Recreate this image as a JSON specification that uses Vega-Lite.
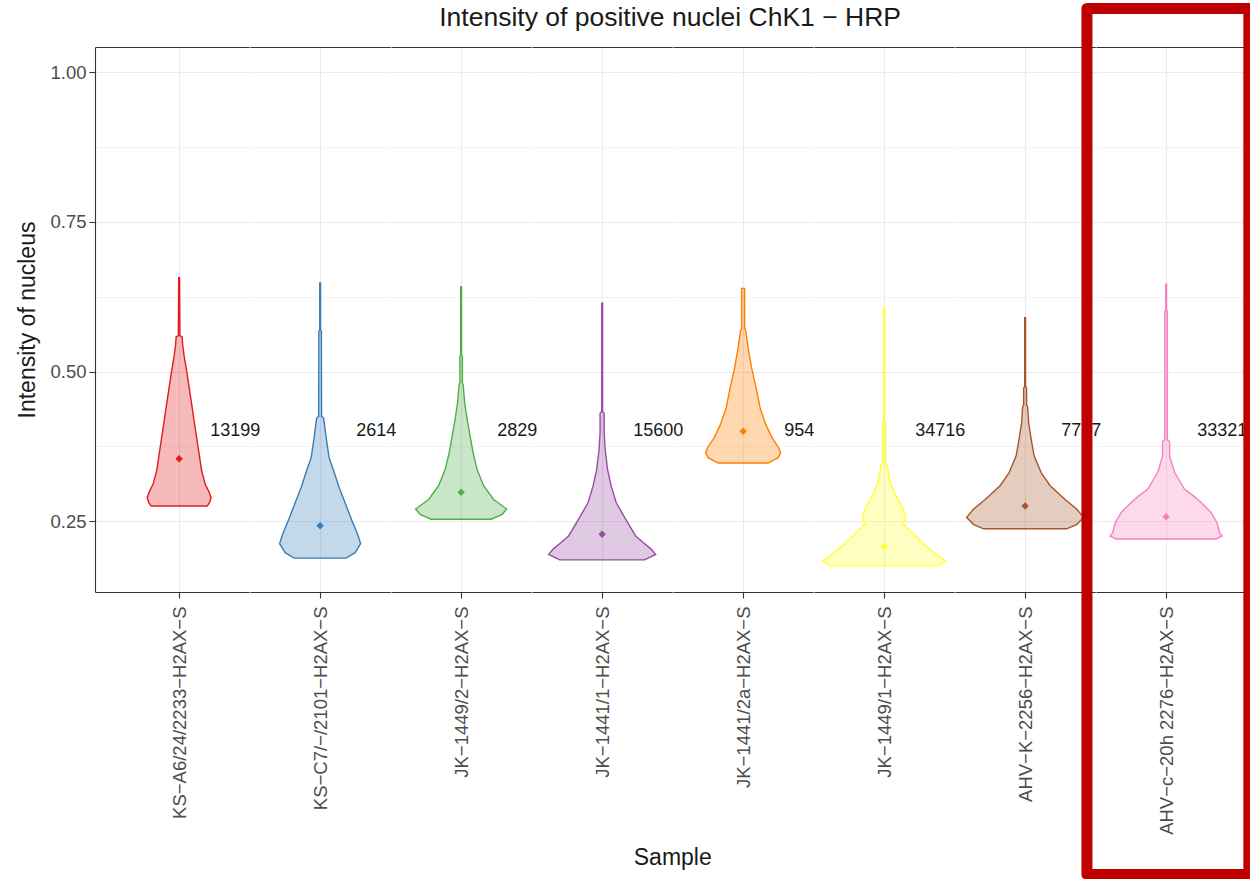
{
  "$schema": "https://vega.github.io/schema/vega-lite/v6.json",
  "background": "white",
  "padding": {"left": 16, "top": 2, "right": 0, "bottom": 0},
  "bounds": "flush",
  "spacing": 0,
  "config": {
    "font": "Liberation Sans",
    "view": {"stroke": null},
    "axis": {
      "labelFont": "Liberation Sans", "labelFontSize": 18.5, "labelColor": "#4D4D4D", "labelLimit": 600,
      "titleFont": "Liberation Sans", "titleFontSize": 23, "titleColor": "#1a1a1a", "titleFontWeight": "normal",
      "gridColor": "#EBEBEB", "tickColor": "#333333", "domainColor": "#333333",
      "tickSize": 6, "tickWidth": 1.1, "domainWidth": 1.1, "labelPadding": 8
    }
  },
  "datasets": {
    "violins": [
      {"Sample": "KS−A6/24/2233−H2AX−S", "intensity": 0.275, "density": 0.399},
      {"Sample": "KS−A6/24/2233−H2AX−S", "intensity": 0.281, "density": 0.435},
      {"Sample": "KS−A6/24/2233−H2AX−S", "intensity": 0.289, "density": 0.456},
      {"Sample": "KS−A6/24/2233−H2AX−S", "intensity": 0.300, "density": 0.421},
      {"Sample": "KS−A6/24/2233−H2AX−S", "intensity": 0.312, "density": 0.371},
      {"Sample": "KS−A6/24/2233−H2AX−S", "intensity": 0.334, "density": 0.321},
      {"Sample": "KS−A6/24/2233−H2AX−S", "intensity": 0.362, "density": 0.285},
      {"Sample": "KS−A6/24/2233−H2AX−S", "intensity": 0.389, "density": 0.250},
      {"Sample": "KS−A6/24/2233−H2AX−S", "intensity": 0.417, "density": 0.214},
      {"Sample": "KS−A6/24/2233−H2AX−S", "intensity": 0.446, "density": 0.178},
      {"Sample": "KS−A6/24/2233−H2AX−S", "intensity": 0.473, "density": 0.143},
      {"Sample": "KS−A6/24/2233−H2AX−S", "intensity": 0.501, "density": 0.107},
      {"Sample": "KS−A6/24/2233−H2AX−S", "intensity": 0.526, "density": 0.071},
      {"Sample": "KS−A6/24/2233−H2AX−S", "intensity": 0.545, "density": 0.050},
      {"Sample": "KS−A6/24/2233−H2AX−S", "intensity": 0.558, "density": 0.043},
      {"Sample": "KS−A6/24/2233−H2AX−S", "intensity": 0.560, "density": 0.011},
      {"Sample": "KS−A6/24/2233−H2AX−S", "intensity": 0.657, "density": 0.006},
      {"Sample": "KS−C7/−/2101−H2AX−S", "intensity": 0.188, "density": 0.371},
      {"Sample": "KS−C7/−/2101−H2AX−S", "intensity": 0.197, "density": 0.499},
      {"Sample": "KS−C7/−/2101−H2AX−S", "intensity": 0.212, "density": 0.578},
      {"Sample": "KS−C7/−/2101−H2AX−S", "intensity": 0.228, "density": 0.535},
      {"Sample": "KS−C7/−/2101−H2AX−S", "intensity": 0.250, "density": 0.456},
      {"Sample": "KS−C7/−/2101−H2AX−S", "intensity": 0.278, "density": 0.364},
      {"Sample": "KS−C7/−/2101−H2AX−S", "intensity": 0.306, "density": 0.271},
      {"Sample": "KS−C7/−/2101−H2AX−S", "intensity": 0.334, "density": 0.193},
      {"Sample": "KS−C7/−/2101−H2AX−S", "intensity": 0.356, "density": 0.128},
      {"Sample": "KS−C7/−/2101−H2AX−S", "intensity": 0.389, "density": 0.086},
      {"Sample": "KS−C7/−/2101−H2AX−S", "intensity": 0.422, "density": 0.050},
      {"Sample": "KS−C7/−/2101−H2AX−S", "intensity": 0.425, "density": 0.021},
      {"Sample": "KS−C7/−/2101−H2AX−S", "intensity": 0.567, "density": 0.018},
      {"Sample": "KS−C7/−/2101−H2AX−S", "intensity": 0.570, "density": 0.006},
      {"Sample": "KS−C7/−/2101−H2AX−S", "intensity": 0.648, "density": 0.006},
      {"Sample": "JK−1449/2−H2AX−S", "intensity": 0.253, "density": 0.428},
      {"Sample": "JK−1449/2−H2AX−S", "intensity": 0.261, "density": 0.585},
      {"Sample": "JK−1449/2−H2AX−S", "intensity": 0.270, "density": 0.649},
      {"Sample": "JK−1449/2−H2AX−S", "intensity": 0.278, "density": 0.556},
      {"Sample": "JK−1449/2−H2AX−S", "intensity": 0.286, "density": 0.463},
      {"Sample": "JK−1449/2−H2AX−S", "intensity": 0.309, "density": 0.321},
      {"Sample": "JK−1449/2−H2AX−S", "intensity": 0.336, "density": 0.228},
      {"Sample": "JK−1449/2−H2AX−S", "intensity": 0.364, "density": 0.171},
      {"Sample": "JK−1449/2−H2AX−S", "intensity": 0.392, "density": 0.128},
      {"Sample": "JK−1449/2−H2AX−S", "intensity": 0.420, "density": 0.086},
      {"Sample": "JK−1449/2−H2AX−S", "intensity": 0.448, "density": 0.050},
      {"Sample": "JK−1449/2−H2AX−S", "intensity": 0.478, "density": 0.029},
      {"Sample": "JK−1449/2−H2AX−S", "intensity": 0.481, "density": 0.018},
      {"Sample": "JK−1449/2−H2AX−S", "intensity": 0.525, "density": 0.018},
      {"Sample": "JK−1449/2−H2AX−S", "intensity": 0.528, "density": 0.006},
      {"Sample": "JK−1449/2−H2AX−S", "intensity": 0.642, "density": 0.006},
      {"Sample": "JK−1441/1−H2AX−S", "intensity": 0.185, "density": 0.606},
      {"Sample": "JK−1441/1−H2AX−S", "intensity": 0.194, "density": 0.763},
      {"Sample": "JK−1441/1−H2AX−S", "intensity": 0.203, "density": 0.699},
      {"Sample": "JK−1441/1−H2AX−S", "intensity": 0.214, "density": 0.585},
      {"Sample": "JK−1441/1−H2AX−S", "intensity": 0.225, "density": 0.478},
      {"Sample": "JK−1441/1−H2AX−S", "intensity": 0.253, "density": 0.335},
      {"Sample": "JK−1441/1−H2AX−S", "intensity": 0.281, "density": 0.200},
      {"Sample": "JK−1441/1−H2AX−S", "intensity": 0.309, "density": 0.128},
      {"Sample": "JK−1441/1−H2AX−S", "intensity": 0.336, "density": 0.078},
      {"Sample": "JK−1441/1−H2AX−S", "intensity": 0.370, "density": 0.043},
      {"Sample": "JK−1441/1−H2AX−S", "intensity": 0.398, "density": 0.029},
      {"Sample": "JK−1441/1−H2AX−S", "intensity": 0.430, "density": 0.029},
      {"Sample": "JK−1441/1−H2AX−S", "intensity": 0.433, "density": 0.006},
      {"Sample": "JK−1441/1−H2AX−S", "intensity": 0.614, "density": 0.006},
      {"Sample": "JK−1441/2a−H2AX−S", "intensity": 0.347, "density": 0.357},
      {"Sample": "JK−1441/2a−H2AX−S", "intensity": 0.356, "density": 0.499},
      {"Sample": "JK−1441/2a−H2AX−S", "intensity": 0.364, "density": 0.535},
      {"Sample": "JK−1441/2a−H2AX−S", "intensity": 0.373, "density": 0.506},
      {"Sample": "JK−1441/2a−H2AX−S", "intensity": 0.389, "density": 0.414},
      {"Sample": "JK−1441/2a−H2AX−S", "intensity": 0.412, "density": 0.321},
      {"Sample": "JK−1441/2a−H2AX−S", "intensity": 0.439, "density": 0.242},
      {"Sample": "JK−1441/2a−H2AX−S", "intensity": 0.473, "density": 0.185},
      {"Sample": "JK−1441/2a−H2AX−S", "intensity": 0.506, "density": 0.121},
      {"Sample": "JK−1441/2a−H2AX−S", "intensity": 0.540, "density": 0.071},
      {"Sample": "JK−1441/2a−H2AX−S", "intensity": 0.569, "density": 0.036},
      {"Sample": "JK−1441/2a−H2AX−S", "intensity": 0.572, "density": 0.021},
      {"Sample": "JK−1441/2a−H2AX−S", "intensity": 0.639, "density": 0.021},
      {"Sample": "JK−1449/1−H2AX−S", "intensity": 0.175, "density": 0.770},
      {"Sample": "JK−1449/1−H2AX−S", "intensity": 0.183, "density": 0.877},
      {"Sample": "JK−1449/1−H2AX−S", "intensity": 0.194, "density": 0.749},
      {"Sample": "JK−1449/1−H2AX−S", "intensity": 0.211, "density": 0.570},
      {"Sample": "JK−1449/1−H2AX−S", "intensity": 0.233, "density": 0.378},
      {"Sample": "JK−1449/1−H2AX−S", "intensity": 0.247, "density": 0.257},
      {"Sample": "JK−1449/1−H2AX−S", "intensity": 0.252, "density": 0.307},
      {"Sample": "JK−1449/1−H2AX−S", "intensity": 0.262, "density": 0.299},
      {"Sample": "JK−1449/1−H2AX−S", "intensity": 0.272, "density": 0.264},
      {"Sample": "JK−1449/1−H2AX−S", "intensity": 0.295, "density": 0.157},
      {"Sample": "JK−1449/1−H2AX−S", "intensity": 0.317, "density": 0.078},
      {"Sample": "JK−1449/1−H2AX−S", "intensity": 0.344, "density": 0.043},
      {"Sample": "JK−1449/1−H2AX−S", "intensity": 0.347, "density": 0.021},
      {"Sample": "JK−1449/1−H2AX−S", "intensity": 0.416, "density": 0.021},
      {"Sample": "JK−1449/1−H2AX−S", "intensity": 0.419, "density": 0.006},
      {"Sample": "JK−1449/1−H2AX−S", "intensity": 0.608, "density": 0.006},
      {"Sample": "AHV−K−2256−H2AX−S", "intensity": 0.237, "density": 0.592},
      {"Sample": "AHV−K−2256−H2AX−S", "intensity": 0.244, "density": 0.734},
      {"Sample": "AHV−K−2256−H2AX−S", "intensity": 0.256, "density": 0.834},
      {"Sample": "AHV−K−2256−H2AX−S", "intensity": 0.270, "density": 0.734},
      {"Sample": "AHV−K−2256−H2AX−S", "intensity": 0.286, "density": 0.570},
      {"Sample": "AHV−K−2256−H2AX−S", "intensity": 0.309, "density": 0.357},
      {"Sample": "AHV−K−2256−H2AX−S", "intensity": 0.331, "density": 0.228},
      {"Sample": "AHV−K−2256−H2AX−S", "intensity": 0.359, "density": 0.128},
      {"Sample": "AHV−K−2256−H2AX−S", "intensity": 0.387, "density": 0.086},
      {"Sample": "AHV−K−2256−H2AX−S", "intensity": 0.414, "density": 0.050},
      {"Sample": "AHV−K−2256−H2AX−S", "intensity": 0.441, "density": 0.036},
      {"Sample": "AHV−K−2256−H2AX−S", "intensity": 0.444, "density": 0.021},
      {"Sample": "AHV−K−2256−H2AX−S", "intensity": 0.472, "density": 0.021},
      {"Sample": "AHV−K−2256−H2AX−S", "intensity": 0.475, "density": 0.006},
      {"Sample": "AHV−K−2256−H2AX−S", "intensity": 0.590, "density": 0.006},
      {"Sample": "AHV−c−20h 2276−H2AX−S", "intensity": 0.220, "density": 0.713},
      {"Sample": "AHV−c−20h 2276−H2AX−S", "intensity": 0.225, "density": 0.799},
      {"Sample": "AHV−c−20h 2276−H2AX−S", "intensity": 0.230, "density": 0.763},
      {"Sample": "AHV−c−20h 2276−H2AX−S", "intensity": 0.247, "density": 0.727},
      {"Sample": "AHV−c−20h 2276−H2AX−S", "intensity": 0.264, "density": 0.642},
      {"Sample": "AHV−c−20h 2276−H2AX−S", "intensity": 0.281, "density": 0.499},
      {"Sample": "AHV−c−20h 2276−H2AX−S", "intensity": 0.292, "density": 0.390},
      {"Sample": "AHV−c−20h 2276−H2AX−S", "intensity": 0.303, "density": 0.264},
      {"Sample": "AHV−c−20h 2276−H2AX−S", "intensity": 0.331, "density": 0.121},
      {"Sample": "AHV−c−20h 2276−H2AX−S", "intensity": 0.359, "density": 0.050},
      {"Sample": "AHV−c−20h 2276−H2AX−S", "intensity": 0.383, "density": 0.050},
      {"Sample": "AHV−c−20h 2276−H2AX−S", "intensity": 0.386, "density": 0.018},
      {"Sample": "AHV−c−20h 2276−H2AX−S", "intensity": 0.600, "density": 0.018},
      {"Sample": "AHV−c−20h 2276−H2AX−S", "intensity": 0.603, "density": 0.006},
      {"Sample": "AHV−c−20h 2276−H2AX−S", "intensity": 0.646, "density": 0.006}
    ],
    "means": [
      {"Sample": "KS−A6/24/2233−H2AX−S", "mean": 0.354},
      {"Sample": "KS−C7/−/2101−H2AX−S", "mean": 0.242},
      {"Sample": "JK−1449/2−H2AX−S", "mean": 0.298},
      {"Sample": "JK−1441/1−H2AX−S", "mean": 0.228},
      {"Sample": "JK−1441/2a−H2AX−S", "mean": 0.400},
      {"Sample": "JK−1449/1−H2AX−S", "mean": 0.207},
      {"Sample": "AHV−K−2256−H2AX−S", "mean": 0.275},
      {"Sample": "AHV−c−20h 2276−H2AX−S", "mean": 0.257}
    ],
    "counts": [
      {"Sample": "KS−A6/24/2233−H2AX−S", "n": 13199},
      {"Sample": "KS−C7/−/2101−H2AX−S", "n": 2614},
      {"Sample": "JK−1449/2−H2AX−S", "n": 2829},
      {"Sample": "JK−1441/1−H2AX−S", "n": 15600},
      {"Sample": "JK−1441/2a−H2AX−S", "n": 954},
      {"Sample": "JK−1449/1−H2AX−S", "n": 34716},
      {"Sample": "AHV−K−2256−H2AX−S", "n": 7757},
      {"Sample": "AHV−c−20h 2276−H2AX−S", "n": 33321}
    ]
  },
  "hconcat": [
    {
      "width": 154.25, "height": 545,
      "resolve": {"axis": {"x": "independent"}},
      "layer": [
        {"data": {"name": "violins"}, "transform": [{"filter": "datum.Sample === 'KS−A6/24/2233−H2AX−S'"}],
         "mark": {"type": "area", "orient": "horizontal", "fill": "#E41A1C", "fillOpacity": 0.3, "stroke": "#E41A1C", "strokeWidth": 1.4},
         "encoding": {
           "y": {"field": "intensity", "type": "quantitative", "scale": {"domain": [0.1313, 1.0426], "nice": false, "zero": false},
                 "axis": {"title": "Intensity of nucleus", "values": [0.25, 0.375, 0.5, 0.625, 0.75, 0.875, 1], "labelExpr": "indexof([0.375,0.625,0.875], datum.value) >= 0 ? '' : format(datum.value, '.2f')", "tickColor": {"condition": {"test": "indexof([0.375,0.625,0.875], datum.value) >= 0", "value": "rgba(0,0,0,0)"}, "value": "#333333"}, "gridWidth": {"condition": {"test": "indexof([0.375,0.625,0.875], datum.value) >= 0", "value": 0.6}, "value": 1.2}, "labelPadding": 3, "titlePadding": 10, "domain": true}},
           "x": {"field": "density", "type": "quantitative", "stack": "center", "impute": null, "scale": {"domain": [-0.372, 0.728], "nice": false, "zero": false},
                 "axis": {"title": null, "orient": "bottom", "values": [0.228], "labelExpr": "'KS−A6/24/2233−H2AX−S'", "labelAngle": 270, "grid": true, "gridWidth": 1.2}}
         }},
        {"data": {"name": "means"}, "transform": [{"filter": "datum.Sample === 'KS−A6/24/2233−H2AX−S'"}],
         "mark": {"type": "point", "shape": "diamond", "filled": true, "size": 55, "opacity": 1, "color": "#E41A1C"},
         "encoding": {
           "y": {"field": "mean", "type": "quantitative"},
           "x": {"datum": 0.228, "type": "quantitative", "axis": {"title": null, "orient": "top", "labels": false, "ticks": false, "grid": false, "domain": true}}
         }},
        {"data": {"name": "counts"}, "transform": [{"filter": "datum.Sample === 'KS−A6/24/2233−H2AX−S'"}],
         "mark": {"type": "text", "fontSize": 18, "color": "#1a1a1a", "align": "center", "baseline": "middle"},
         "encoding": {
           "y": {"datum": 0.4, "type": "quantitative"},
           "x": {"datum": 0.628, "type": "quantitative", "axis": null},
           "text": {"field": "n", "type": "quantitative", "format": "d"}
         }}
      ]
    },
    {
      "width": 140.25, "height": 545,
      "resolve": {"axis": {"x": "independent"}},
      "layer": [
        {"data": {"name": "violins"}, "transform": [{"filter": "datum.Sample === 'KS−C7/−/2101−H2AX−S'"}],
         "mark": {"type": "area", "orient": "horizontal", "fill": "#377EB8", "fillOpacity": 0.3, "stroke": "#377EB8", "strokeWidth": 1.4},
         "encoding": {
           "y": {"field": "intensity", "type": "quantitative", "scale": {"domain": [0.1313, 1.0426], "nice": false, "zero": false},
                 "axis": {"title": null, "values": [0.25, 0.375, 0.5, 0.625, 0.75, 0.875, 1], "labels": false, "ticks": false, "domain": false, "gridWidth": {"condition": {"test": "indexof([0.375,0.625,0.875], datum.value) >= 0", "value": 0.6}, "value": 1.2}}},
           "x": {"field": "density", "type": "quantitative", "stack": "center", "impute": null, "scale": {"domain": [-0.211, 0.789], "nice": false, "zero": false},
                 "axis": {"title": null, "orient": "bottom", "values": [0.289], "labelExpr": "'KS−C7/−/2101−H2AX−S'", "labelAngle": 270, "grid": true, "gridWidth": 1.2}}
         }},
        {"data": {"name": "means"}, "transform": [{"filter": "datum.Sample === 'KS−C7/−/2101−H2AX−S'"}],
         "mark": {"type": "point", "shape": "diamond", "filled": true, "size": 55, "opacity": 1, "color": "#377EB8"},
         "encoding": {
           "y": {"field": "mean", "type": "quantitative"},
           "x": {"datum": 0.289, "type": "quantitative", "axis": {"title": null, "orient": "top", "labels": false, "ticks": false, "grid": false, "domain": true}}
         }},
        {"data": {"name": "counts"}, "transform": [{"filter": "datum.Sample === 'KS−C7/−/2101−H2AX−S'"}],
         "mark": {"type": "text", "fontSize": 18, "color": "#1a1a1a", "align": "center", "baseline": "middle"},
         "encoding": {
           "y": {"datum": 0.4, "type": "quantitative"},
           "x": {"datum": 0.689, "type": "quantitative", "axis": null},
           "text": {"field": "n", "type": "quantitative", "format": "d"}
         }}
      ]
    },
    {
      "width": 140.25, "height": 545,
      "resolve": {"axis": {"x": "independent"}},
      "layer": [
        {"data": {"name": "violins"}, "transform": [{"filter": "datum.Sample === 'JK−1449/2−H2AX−S'"}],
         "mark": {"type": "area", "orient": "horizontal", "fill": "#4DAF4A", "fillOpacity": 0.3, "stroke": "#4DAF4A", "strokeWidth": 1.4},
         "encoding": {
           "y": {"field": "intensity", "type": "quantitative", "scale": {"domain": [0.1313, 1.0426], "nice": false, "zero": false},
                 "axis": {"title": null, "values": [0.25, 0.375, 0.5, 0.625, 0.75, 0.875, 1], "labels": false, "ticks": false, "domain": false, "gridWidth": {"condition": {"test": "indexof([0.375,0.625,0.875], datum.value) >= 0", "value": 0.6}, "value": 1.2}}},
           "x": {"field": "density", "type": "quantitative", "stack": "center", "impute": null, "scale": {"domain": [-0.1755, 0.8245], "nice": false, "zero": false},
                 "axis": {"title": null, "orient": "bottom", "values": [0.3245], "labelExpr": "'JK−1449/2−H2AX−S'", "labelAngle": 270, "grid": true, "gridWidth": 1.2}}
         }},
        {"data": {"name": "means"}, "transform": [{"filter": "datum.Sample === 'JK−1449/2−H2AX−S'"}],
         "mark": {"type": "point", "shape": "diamond", "filled": true, "size": 55, "opacity": 1, "color": "#4DAF4A"},
         "encoding": {
           "y": {"field": "mean", "type": "quantitative"},
           "x": {"datum": 0.3245, "type": "quantitative", "axis": {"title": null, "orient": "top", "labels": false, "ticks": false, "grid": false, "domain": true}}
         }},
        {"data": {"name": "counts"}, "transform": [{"filter": "datum.Sample === 'JK−1449/2−H2AX−S'"}],
         "mark": {"type": "text", "fontSize": 18, "color": "#1a1a1a", "align": "center", "baseline": "middle"},
         "encoding": {
           "y": {"datum": 0.4, "type": "quantitative"},
           "x": {"datum": 0.7245, "type": "quantitative", "axis": null},
           "text": {"field": "n", "type": "quantitative", "format": "d"}
         }}
      ]
    },
    {
      "width": 140.25, "height": 545,
      "title": {"text": "Intensity of positive nuclei ChK1 − HRP", "anchor": "middle", "frame": "group", "dx": 68, "offset": -5, "baseline": "alphabetic", "fontSize": 26.5, "font": "Liberation Sans", "fontWeight": "normal", "color": "#1a1a1a"},
      "resolve": {"axis": {"x": "independent"}},
      "layer": [
        {"data": {"name": "violins"}, "transform": [{"filter": "datum.Sample === 'JK−1441/1−H2AX−S'"}],
         "mark": {"type": "area", "orient": "horizontal", "fill": "#984EA3", "fillOpacity": 0.3, "stroke": "#984EA3", "strokeWidth": 1.4},
         "encoding": {
           "y": {"field": "intensity", "type": "quantitative", "scale": {"domain": [0.1313, 1.0426], "nice": false, "zero": false},
                 "axis": {"title": null, "values": [0.25, 0.375, 0.5, 0.625, 0.75, 0.875, 1], "labels": false, "ticks": false, "domain": false, "gridWidth": {"condition": {"test": "indexof([0.375,0.625,0.875], datum.value) >= 0", "value": 0.6}, "value": 1.2}}},
           "x": {"field": "density", "type": "quantitative", "stack": "center", "impute": null, "scale": {"domain": [-0.1185, 0.8815], "nice": false, "zero": false},
                 "axis": {"title": "Sample", "titleX": 140.25, "titleY": 272, "titleBaseline": "alphabetic", "titleAlign": "center", "orient": "bottom", "values": [0.3815], "labelExpr": "'JK−1441/1−H2AX−S'", "labelAngle": 270, "grid": true, "gridWidth": 1.2}}
         }},
        {"data": {"name": "means"}, "transform": [{"filter": "datum.Sample === 'JK−1441/1−H2AX−S'"}],
         "mark": {"type": "point", "shape": "diamond", "filled": true, "size": 55, "opacity": 1, "color": "#984EA3"},
         "encoding": {
           "y": {"field": "mean", "type": "quantitative"},
           "x": {"datum": 0.3815, "type": "quantitative", "axis": {"title": null, "orient": "top", "labels": false, "ticks": false, "grid": false, "domain": true}}
         }},
        {"data": {"name": "counts"}, "transform": [{"filter": "datum.Sample === 'JK−1441/1−H2AX−S'"}],
         "mark": {"type": "text", "fontSize": 18, "color": "#1a1a1a", "align": "center", "baseline": "middle"},
         "encoding": {
           "y": {"datum": 0.4, "type": "quantitative"},
           "x": {"datum": 0.7815, "type": "quantitative", "axis": null},
           "text": {"field": "n", "type": "quantitative", "format": "d"}
         }}
      ]
    },
    {
      "width": 140.25, "height": 545,
      "resolve": {"axis": {"x": "independent"}},
      "layer": [
        {"data": {"name": "violins"}, "transform": [{"filter": "datum.Sample === 'JK−1441/2a−H2AX−S'"}],
         "mark": {"type": "area", "orient": "horizontal", "fill": "#FF7F00", "fillOpacity": 0.3, "stroke": "#FF7F00", "strokeWidth": 1.4},
         "encoding": {
           "y": {"field": "intensity", "type": "quantitative", "scale": {"domain": [0.1313, 1.0426], "nice": false, "zero": false},
                 "axis": {"title": null, "values": [0.25, 0.375, 0.5, 0.625, 0.75, 0.875, 1], "labels": false, "ticks": false, "domain": false, "gridWidth": {"condition": {"test": "indexof([0.375,0.625,0.875], datum.value) >= 0", "value": 0.6}, "value": 1.2}}},
           "x": {"field": "density", "type": "quantitative", "stack": "center", "impute": null, "scale": {"domain": [-0.2325, 0.7675], "nice": false, "zero": false},
                 "axis": {"title": null, "orient": "bottom", "values": [0.2675], "labelExpr": "'JK−1441/2a−H2AX−S'", "labelAngle": 270, "grid": true, "gridWidth": 1.2}}
         }},
        {"data": {"name": "means"}, "transform": [{"filter": "datum.Sample === 'JK−1441/2a−H2AX−S'"}],
         "mark": {"type": "point", "shape": "diamond", "filled": true, "size": 55, "opacity": 1, "color": "#FF7F00"},
         "encoding": {
           "y": {"field": "mean", "type": "quantitative"},
           "x": {"datum": 0.2675, "type": "quantitative", "axis": {"title": null, "orient": "top", "labels": false, "ticks": false, "grid": false, "domain": true}}
         }},
        {"data": {"name": "counts"}, "transform": [{"filter": "datum.Sample === 'JK−1441/2a−H2AX−S'"}],
         "mark": {"type": "text", "fontSize": 18, "color": "#1a1a1a", "align": "center", "baseline": "middle"},
         "encoding": {
           "y": {"datum": 0.4, "type": "quantitative"},
           "x": {"datum": 0.6675, "type": "quantitative", "axis": null},
           "text": {"field": "n", "type": "quantitative", "format": "d"}
         }}
      ]
    },
    {
      "width": 140.25, "height": 545,
      "resolve": {"axis": {"x": "independent"}},
      "layer": [
        {"data": {"name": "violins"}, "transform": [{"filter": "datum.Sample === 'JK−1449/1−H2AX−S'"}],
         "mark": {"type": "area", "orient": "horizontal", "fill": "#FFFF33", "fillOpacity": 0.3, "stroke": "#FFFF33", "strokeWidth": 1.4},
         "encoding": {
           "y": {"field": "intensity", "type": "quantitative", "scale": {"domain": [0.1313, 1.0426], "nice": false, "zero": false},
                 "axis": {"title": null, "values": [0.25, 0.375, 0.5, 0.625, 0.75, 0.875, 1], "labels": false, "ticks": false, "domain": false, "gridWidth": {"condition": {"test": "indexof([0.375,0.625,0.875], datum.value) >= 0", "value": 0.6}, "value": 1.2}}},
           "x": {"field": "density", "type": "quantitative", "stack": "center", "impute": null, "scale": {"domain": [-0.0615, 0.9385], "nice": false, "zero": false},
                 "axis": {"title": null, "orient": "bottom", "values": [0.4385], "labelExpr": "'JK−1449/1−H2AX−S'", "labelAngle": 270, "grid": true, "gridWidth": 1.2}}
         }},
        {"data": {"name": "means"}, "transform": [{"filter": "datum.Sample === 'JK−1449/1−H2AX−S'"}],
         "mark": {"type": "point", "shape": "diamond", "filled": true, "size": 55, "opacity": 1, "color": "#FFFF33"},
         "encoding": {
           "y": {"field": "mean", "type": "quantitative"},
           "x": {"datum": 0.4385, "type": "quantitative", "axis": {"title": null, "orient": "top", "labels": false, "ticks": false, "grid": false, "domain": true}}
         }},
        {"data": {"name": "counts"}, "transform": [{"filter": "datum.Sample === 'JK−1449/1−H2AX−S'"}],
         "mark": {"type": "text", "fontSize": 18, "color": "#1a1a1a", "align": "center", "baseline": "middle"},
         "encoding": {
           "y": {"datum": 0.4, "type": "quantitative"},
           "x": {"datum": 0.8385, "type": "quantitative", "axis": null},
           "text": {"field": "n", "type": "quantitative", "format": "d"}
         }}
      ]
    },
    {
      "width": 140.25, "height": 545,
      "resolve": {"axis": {"x": "independent"}},
      "layer": [
        {"data": {"name": "violins"}, "transform": [{"filter": "datum.Sample === 'AHV−K−2256−H2AX−S'"}],
         "mark": {"type": "area", "orient": "horizontal", "fill": "#A65628", "fillOpacity": 0.3, "stroke": "#A65628", "strokeWidth": 1.4},
         "encoding": {
           "y": {"field": "intensity", "type": "quantitative", "scale": {"domain": [0.1313, 1.0426], "nice": false, "zero": false},
                 "axis": {"title": null, "values": [0.25, 0.375, 0.5, 0.625, 0.75, 0.875, 1], "labels": false, "ticks": false, "domain": false, "gridWidth": {"condition": {"test": "indexof([0.375,0.625,0.875], datum.value) >= 0", "value": 0.6}, "value": 1.2}}},
           "x": {"field": "density", "type": "quantitative", "stack": "center", "impute": null, "scale": {"domain": [-0.083, 0.917], "nice": false, "zero": false},
                 "axis": {"title": null, "orient": "bottom", "values": [0.417], "labelExpr": "'AHV−K−2256−H2AX−S'", "labelAngle": 270, "grid": true, "gridWidth": 1.2}}
         }},
        {"data": {"name": "means"}, "transform": [{"filter": "datum.Sample === 'AHV−K−2256−H2AX−S'"}],
         "mark": {"type": "point", "shape": "diamond", "filled": true, "size": 55, "opacity": 1, "color": "#A65628"},
         "encoding": {
           "y": {"field": "mean", "type": "quantitative"},
           "x": {"datum": 0.417, "type": "quantitative", "axis": {"title": null, "orient": "top", "labels": false, "ticks": false, "grid": false, "domain": true}}
         }},
        {"data": {"name": "counts"}, "transform": [{"filter": "datum.Sample === 'AHV−K−2256−H2AX−S'"}],
         "mark": {"type": "text", "fontSize": 18, "color": "#1a1a1a", "align": "center", "baseline": "middle"},
         "encoding": {
           "y": {"datum": 0.4, "type": "quantitative"},
           "x": {"datum": 0.817, "type": "quantitative", "axis": null},
           "text": {"field": "n", "type": "quantitative", "format": "d"}
         }}
      ]
    },
    {
      "width": 154.25, "height": 545,
      "resolve": {"axis": {"x": "independent"}},
      "layer": [
        {"data": {"name": "violins"}, "transform": [{"filter": "datum.Sample === 'AHV−c−20h 2276−H2AX−S'"}],
         "mark": {"type": "area", "orient": "horizontal", "fill": "#F781BF", "fillOpacity": 0.3, "stroke": "#F781BF", "strokeWidth": 1.4},
         "encoding": {
           "y": {"field": "intensity", "type": "quantitative", "scale": {"domain": [0.1313, 1.0426], "nice": false, "zero": false},
                 "axis": {"title": null, "orient": "right", "values": [0.25, 0.375, 0.5, 0.625, 0.75, 0.875, 1], "labels": false, "ticks": false, "domain": true, "gridWidth": {"condition": {"test": "indexof([0.375,0.625,0.875], datum.value) >= 0", "value": 0.6}, "value": 1.2}}},
           "x": {"field": "density", "type": "quantitative", "stack": "center", "impute": null, "scale": {"domain": [-0.1005, 0.9995], "nice": false, "zero": false},
                 "axis": {"title": null, "orient": "bottom", "values": [0.3995], "labelExpr": "'AHV−c−20h 2276−H2AX−S'", "labelAngle": 270, "grid": true, "gridWidth": 1.2}}
         }},
        {"data": {"name": "means"}, "transform": [{"filter": "datum.Sample === 'AHV−c−20h 2276−H2AX−S'"}],
         "mark": {"type": "point", "shape": "diamond", "filled": true, "size": 55, "opacity": 1, "color": "#F781BF"},
         "encoding": {
           "y": {"field": "mean", "type": "quantitative"},
           "x": {"datum": 0.3995, "type": "quantitative", "axis": {"title": null, "orient": "top", "labels": false, "ticks": false, "grid": false, "domain": true}}
         }},
        {"data": {"name": "counts"}, "transform": [{"filter": "datum.Sample === 'AHV−c−20h 2276−H2AX−S'"}],
         "mark": {"type": "text", "fontSize": 18, "color": "#1a1a1a", "align": "center", "baseline": "middle"},
         "encoding": {
           "y": {"datum": 0.4, "type": "quantitative"},
           "x": {"datum": 0.7995, "type": "quantitative", "axis": null},
           "text": {"field": "n", "type": "quantitative", "format": "d"}
         }},
        {"data": {"values": [{}]},
         "mark": {"type": "rect", "filled": false, "color": "#C00000", "strokeWidth": 11, "strokeJoin": "round", "clip": false},
         "encoding": {
           "x": {"datum": -0.165, "type": "quantitative", "axis": null},
           "x2": {"datum": 0.9895},
           "y": {"datum": 1.107, "type": "quantitative"},
           "y2": {"datum": -0.341}
         }}
      ]
    }
  ]
}
